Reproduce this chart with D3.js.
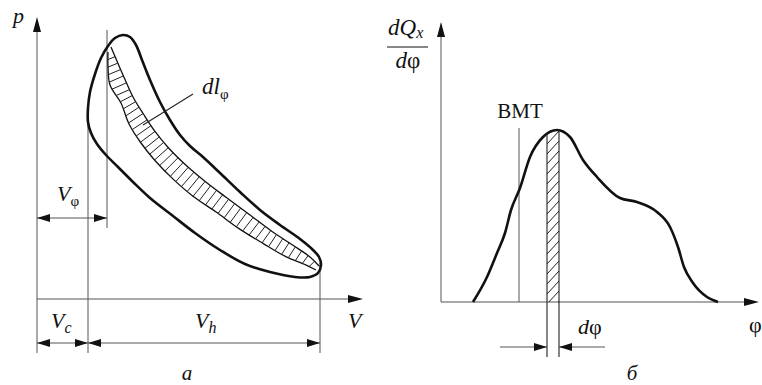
<!DOCTYPE html>
<html>
<head>
<meta charset="utf-8">
<script src="https://cdn.jsdelivr.net/npm/d3@7"></script>
<style>
  body { margin: 0; background: #fff; }
  svg { display: block; }
  text { font-family: "Liberation Serif", "DejaVu Serif", serif; fill: #111; }
  .it { font-style: italic; }
</style>
</head>
<body>
<svg id="fig" width="762" height="385"></svg>
<script>
// ---- а) indicator diagram p–V (diagram units: V, p) ----
const pvLoop = [
  [25.5, 88.5], [27, 83], [30, 77.5], [34.5, 72], [40.5, 66], [48, 58.5], [56.5, 50.5],
  [68, 41.5], [79, 33], [91.5, 24.5], [104, 17.5], [116.5, 13.5], [129, 11], [136.5, 11],
  [140.5, 13], [142, 17], [141, 21], [137.5, 25], [131.5, 30], [121.5, 37], [111.5, 44.5],
  [101.5, 53.5], [91.5, 63], [83, 71], [76.5, 76.5], [71.5, 82], [66.5, 89.5], [61.5, 98.5],
  [56.5, 109.5], [52.5, 119.5], [49.5, 127], [46.5, 131], [43, 132], [39, 130.5],
  [35.5, 126.5], [32, 120.5], [29, 112.5], [26.5, 103.5], [25.5, 95.5]
];
// elementary work strip dl_φ: its two edges
const bandUpper = [
  [37, 126], [40.5, 117.75], [44, 109.75], [48, 101], [53.2, 92.5], [59, 83.8],
  [65.8, 75.5], [74.1, 67.25], [83.8, 59], [94.5, 50.85], [106, 42.35], [117.2, 34],
  [128, 26.85], [136.65, 20.9], [141, 16.5]
];
const bandLower = [
  [35.5, 123.5], [35.5, 116.25], [36.5, 107], [42, 98], [46, 87.5], [52, 78],
  [59.2, 69], [67.8, 60.2], [78, 51.4], [89.4, 43.6], [101, 35.2], [113, 27.8],
  [124.4, 21.2], [134.35, 17.1], [139.5, 14.5]
];
const bandRungs = 42;
const vC = 25.5;      // clearance volume
const vPhi = 35;      // volume at crank angle φ
const vMax = 141.5;   // Vc + Vh
const leader = [[78, 102.5], [53, 87]];

// ---- б) heat-release rate dQx/dφ versus φ ----
const heatCurve = [
  [16, 0], [23, 12.5], [28, 24.5], [32, 34.5], [35, 46], [39.5, 57], [44.5, 72.5],
  [51, 82.5], [58, 86], [64.5, 82.5], [71, 71], [78, 62.5], [89.5, 52], [98, 50],
  [108, 45], [114.5, 37.5], [118.5, 27.5], [121.5, 17.5], [126, 9.5], [133, 2.5], [138.5, 0]
];
const phiTDC = 39;                  // ВМТ
const stripFrom = 53, stripTo = 59; // dφ strip

const svg = d3.select("#fig");
const ink = "#111";
const thinInk = "#555";

function arrowHead(g, tx, ty, dx, dy, len = 13, half = 4) {
  const n = Math.hypot(dx, dy), ux = dx / n, uy = dy / n;
  const bx = tx - ux * len, by = ty - uy * len;
  g.append("path")
    .attr("d", `M${tx},${ty}L${bx - uy * half},${by + ux * half}L${bx + uy * half},${by - ux * half}Z`)
    .attr("fill", ink);
}
function seg(g, x1, y1, x2, y2, w = 1, c = thinInk) {
  g.append("line").attr("x1", x1).attr("y1", y1).attr("x2", x2).attr("y2", y2)
    .attr("stroke", c).attr("stroke-width", w);
}
function dim(g, y, xa, xb) {
  seg(g, xa, y, xb, y);
  arrowHead(g, xa, y, -1, 0);
  arrowHead(g, xb, y, 1, 0);
}
// symbol with a subscript; parts: [text, italic?, size, dy]
function symbol(g, x, y, parts, anchor = "start") {
  const t = g.append("text").attr("x", x).attr("y", y).attr("text-anchor", anchor);
  parts.forEach(([s, it, size, dy]) => {
    t.append("tspan").attr("class", it ? "it" : null)
      .attr("font-size", size).attr("dy", dy || 0).text(s);
  });
  return t;
}

// ================= left panel =================
const xL = d3.scaleLinear().domain([0, 163]).range([37, 363]);
const yL = d3.scaleLinear().domain([0, 141]).range([299, 17]);
const gL = svg.append("g");

// axes
seg(gL, xL(0), yL(-27), xL(0), yL(135));
arrowHead(gL, xL(0), yL(141), 0, -1, 15, 4);
seg(gL, xL(0), yL(0), xL(157), yL(0));
arrowHead(gL, xL(163), yL(0), 1, 0, 15, 4);

// extension lines
seg(gL, xL(vC), yL(93.5), xL(vC), yL(-27));
seg(gL, xL(vPhi), yL(134.5), xL(vPhi), yL(35.5));
seg(gL, xL(vMax), yL(18), xL(vMax), yL(-27));

// dimension arrows
dim(gL, yL(40.5), xL(0), xL(vPhi));
dim(gL, yL(-22), xL(0), xL(vC));
dim(gL, yL(-22), xL(vC), xL(vMax));

// work strip
const edgeLine = d3.line().x(d => xL(d[0])).y(d => yL(d[1])).curve(d3.curveCatmullRom.alpha(0.5));
const upNode = gL.append("path").attr("d", edgeLine(bandUpper))
  .attr("fill", "none").attr("stroke", ink).attr("stroke-width", 1.3).node();
const loNode = gL.append("path").attr("d", edgeLine(bandLower))
  .attr("fill", "none").attr("stroke", ink).attr("stroke-width", 1.3).node();
const Lu = upNode.getTotalLength(), Ll = loNode.getTotalLength();
const upPts = d3.range(0, Lu, 0.5).map(s => upNode.getPointAtLength(s));
for (let i = 1; i < bandRungs; i++) {
  const a = loNode.getPointAtLength(i / bandRungs * Ll);
  // rung runs across the strip to the nearest point of the opposite edge
  const b = upPts.reduce((m, p) => (Math.hypot(p.x - a.x, p.y - a.y) < Math.hypot(m.x - a.x, m.y - a.y) ? p : m));
  seg(gL, a.x, a.y, b.x, b.y, 1, "#222");
}

// indicator loop
const loopLine = d3.line().x(d => xL(d[0])).y(d => yL(d[1])).curve(d3.curveCatmullRomClosed.alpha(0.5));
gL.append("path").attr("d", loopLine(pvLoop))
  .attr("fill", "none").attr("stroke", ink).attr("stroke-width", 2.6).attr("stroke-linejoin", "round");

// leader to dl_φ
seg(gL, xL(leader[0][0]), yL(leader[0][1]), xL(leader[1][0]), yL(leader[1][1]), 1.1, "#222");

// labels
symbol(gL, 13, 23, [["p", true, 22]]);
symbol(gL, 202, 94, [["dl", true, 23], ["φ", false, 15, 5]]);
symbol(gL, 57, 201, [["V", true, 22], ["φ", false, 15, 5]]);
symbol(gL, 51, 328, [["V", true, 22], ["c", true, 16, 5]]);
symbol(gL, 195, 328, [["V", true, 22], ["h", true, 16, 5]]);
symbol(gL, 348, 328, [["V", true, 22]]);
symbol(gL, 187, 380, [["а", true, 21]], "middle");

// ================= right panel =================
const xR = d3.scaleLinear().domain([0, 159.5]).range([441, 760]);
const yR = d3.scaleLinear().domain([0, 141]).range([302, 20]);
const gR = svg.append("g");

seg(gR, xR(0), yR(0), xR(0), yR(134));
arrowHead(gR, xR(0), yR(140), 0, -1, 15, 4);
seg(gR, xR(0), yR(0), xR(153), yR(0));
arrowHead(gR, xR(159), yR(0), 1, 0, 15, 4);

// TDC line
seg(gR, xR(phiTDC), yR(87), xR(phiTDC), yR(0));

const heatLine = d3.line().x(d => xR(d[0])).y(d => yR(d[1])).curve(d3.curveMonotoneX);
const heatArea = d3.area().x(d => xR(d[0])).y0(yR(0)).y1(d => yR(d[1])).curve(d3.curveMonotoneX);

const defs = svg.append("defs");
defs.append("clipPath").attr("id", "underCurve").append("path").attr("d", heatArea(heatCurve));
defs.append("clipPath").attr("id", "stripBox").append("rect")
  .attr("x", xR(stripFrom)).attr("y", 0).attr("width", xR(stripTo) - xR(stripFrom)).attr("height", yR(0));

const hatch = gR.append("g").attr("clip-path", "url(#underCurve)")
  .append("g").attr("clip-path", "url(#stripBox)");
for (let y = yR(0) + 12; y > yR(95); y -= 10) {
  hatch.append("line").attr("x1", xR(stripFrom)).attr("y1", y)
    .attr("x2", xR(stripTo)).attr("y2", y - 13)
    .attr("stroke", "#222").attr("stroke-width", 1);
}

const heatPath = gR.append("path").attr("d", heatLine(heatCurve))
  .attr("fill", "none").attr("stroke", ink).attr("stroke-width", 2.6);

// curve height at a given x position
function curveYAt(node, px) {
  let lo = 0, hi = node.getTotalLength();
  for (let k = 0; k < 40; k++) {
    const mid = (lo + hi) / 2;
    if (node.getPointAtLength(mid).x < px) lo = mid; else hi = mid;
  }
  return node.getPointAtLength(lo).y;
}
[stripFrom, stripTo].forEach(p => {
  const px = xR(p);
  seg(gR, px, curveYAt(heatPath.node(), px), px, yR(-27.5), 1.1, "#222");
});
seg(gR, xR(29.5), yR(-22.5), xR(stripFrom), yR(-22.5));
arrowHead(gR, xR(stripFrom), yR(-22.5), 1, 0);
seg(gR, xR(stripTo), yR(-22.5), xR(82), yR(-22.5));
arrowHead(gR, xR(stripTo), yR(-22.5), -1, 0);

// labels
symbol(gR, 388, 35, [["dQ", true, 23], ["x", true, 16, 3]]);
seg(gR, 387, 47, 428, 47, 1.2, ink);
symbol(gR, 408, 68, [["d", true, 23], ["φ", false, 23]], "middle");
symbol(gR, 520, 118, [["ВМТ", false, 21]], "middle");
symbol(gR, 578, 334, [["d", true, 22], ["φ", false, 22]]);
symbol(gR, 749, 332, [["φ", false, 22]]);
symbol(gR, 632, 380, [["б", true, 21]], "middle");
</script>
</body>
</html>
